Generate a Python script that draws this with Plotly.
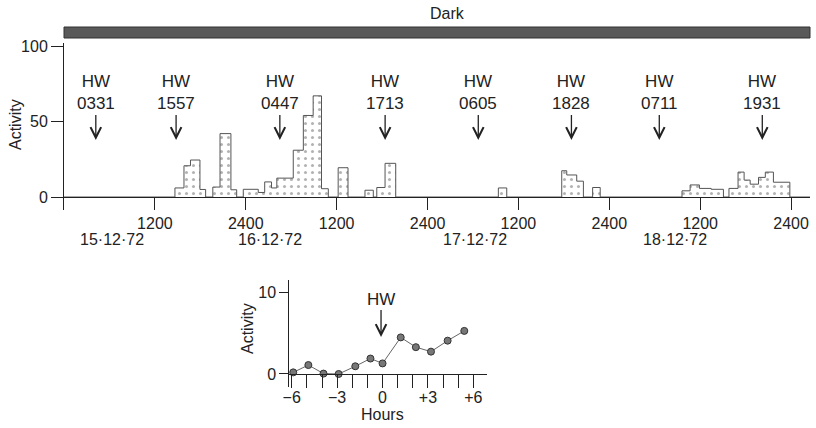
import plotly.graph_objects as go

# ---------------- data ----------------
# Top panel: activity step histogram (segment start time in hours from 0000 15.12.72, activity)
seg_start = [0, 14.65, 15.84, 16.7, 17.95, 18.7,
             19.65, 20.6, 22.04, 22.8,
             23.67, 25.65, 26.5, 27.4, 28.1, 30.27, 31.6, 32.9, 34.0, 34.9,
             36.2, 37.5,
             39.74, 40.84, 41.3, 42.39, 43.8,
             57.35, 58.46,
             65.72, 66.38, 67.7, 68.58, 69.8, 70.8,
             81.6, 82.67, 83.9, 85.45, 87.07, 87.8, 89.0, 89.8, 90.6, 91.7, 92.6, 93.67, 95.84,
             98.5]
seg_activity = [0, 6, 20.7, 24.5, 5, 0,
                6.6, 42, 4.8, 0,
                5.1, 3, 10, 6, 12.5, 31, 54, 67, 5.5, 0,
                19.4, 0,
                4.5, 0, 6.3, 22.3, 0,
                6, 0,
                17.4, 14.6, 10.5, 0, 6.3, 0,
                4.1, 8, 5.7, 5.1, 0, 5.7, 16.5, 11.2, 8.5, 13, 16.5, 9.8, 0,
                0]

x_tickvals = [12, 24, 36, 48, 60, 72, 84, 96]
x_ticktext = ["1200", "2400", "1200", "2400", "1200", "2400", "1200", "2400"]
date_labels = ["15·12·72", "16·12·72", "17·12·72", "18·12·72"]
date_pos = [6.3, 27.2, 54.3, 80.7]

hw_times = ["0331", "1557", "0447", "1713", "0605", "1828", "0711", "1931"]
hw_pos = [4.2, 14.8, 28.5, 42.4, 54.7, 67.0, 78.6, 92.2]

# Bottom panel: mean activity relative to high water
rel_hours = [-5.9, -4.9, -3.9, -2.9, -1.8, -0.8, 0.0, 1.2, 2.2, 3.2, 4.3, 5.4]
rel_activity = [0.2, 1.1, 0.05, 0.0, 0.95, 1.9, 1.3, 4.5, 3.3, 2.75, 4.1, 5.3]
rel_tickvals = list(range(-6, 7))
rel_ticktext = ["−6", "", "", "−3", "", "", "0", "", "", "+3", "", "", "+6"]

# ---------------- figure ----------------
W, H = 816, 428
FONT = "Liberation Sans"
INK = "#222222"

def py(px):
    return 1 - px / H

fig = go.Figure()

fig.add_trace(go.Scatter(
    x=seg_start, y=seg_activity, mode="lines", line_shape="hv",
    line=dict(color="#555555", width=1),
    fill="tozeroy", fillcolor="white",
    fillpattern=dict(shape=".", fgcolor="#666666", bgcolor="white", size=7, solidity=0.15),
    xaxis="x", yaxis="y", hoverinfo="skip", showlegend=False))

fig.add_trace(go.Scatter(
    x=rel_hours, y=rel_activity, mode="lines+markers",
    line=dict(color="#666666", width=1),
    marker=dict(size=7, color="#777777", line=dict(color="#333333", width=1)),
    xaxis="x2", yaxis="y2", hoverinfo="skip", showlegend=False, cliponaxis=False))

fig.update_layout(
    width=W, height=H,
    margin=dict(l=0, r=0, t=0, b=0, pad=0, autoexpand=False),
    paper_bgcolor="white", plot_bgcolor="white", showlegend=False,
    font=dict(family=FONT, size=16, color=INK),
    xaxis=dict(domain=[64 / W, 810 / W], range=[0, 98.5], anchor="free", position=py(197),
               tickvals=x_tickvals, ticktext=x_ticktext, ticks="outside", ticklen=12,
               tickcolor=INK, showline=True, linecolor=INK, linewidth=1,
               showgrid=False, zeroline=False, tickfont=dict(size=16), automargin=False),
    yaxis=dict(domain=[py(210), py(43)], range=[-8.6, 102], anchor="x",
               tickvals=[0, 50, 100], ticks="outside", ticklen=12, tickcolor=INK,
               showline=True, linecolor=INK, linewidth=1, showgrid=False, zeroline=False,
               tickfont=dict(size=16), automargin=False),
    xaxis2=dict(domain=[289.3 / W, 487 / W], range=[-6.16, 6.9], anchor="free", position=py(374),
                tickvals=rel_tickvals, ticktext=rel_ticktext, ticks="outside", ticklen=13,
                tickcolor=INK, showline=True, linecolor=INK, linewidth=1,
                showgrid=False, zeroline=False, tickfont=dict(size=16), automargin=False,
                ticklabelstandoff=-4),
    yaxis2=dict(domain=[py(387), py(280)], range=[-1.6, 11.56], anchor="x2",
                tickvals=[0, 10], ticks="outside", ticklen=9, tickcolor=INK,
                showline=True, linecolor=INK, linewidth=1, showgrid=False, zeroline=False,
                tickfont=dict(size=16), automargin=False),
)

# Dark bar
fig.add_shape(type="rect", xref="x domain", yref="paper", x0=0, x1=1,
              y0=py(38), y1=py(27), fillcolor="#595959", line=dict(color="#333333", width=1))

def txt(text, x, y, xref="paper", **kw):
    d = dict(text=text, x=x, y=y, xref=xref, yref="paper", showarrow=False,
             xanchor="center", yanchor="middle", font=dict(size=16))
    d.update(kw)
    return d

ann = []
ann.append(txt("Dark", 447 / W, py(14)))
ann.append(txt("Activity", 15 / W, py(125), textangle=-90))
ann.append(txt("Activity", 247 / W, py(328), textangle=-90))
ann.append(txt("Hours", 0, py(414), xref="x2"))
for lab, pos in zip(date_labels, date_pos):
    ann.append(txt(lab, pos, py(240), xref="x"))
for t, pos in zip(hw_times, hw_pos):
    ann.append(dict(text="HW<br>" + t, x=pos, y=py(140), xref="x", yref="paper",
                    showarrow=True, ax=0, ay=-47, arrowhead=5, arrowsize=1.6,
                    arrowwidth=1.3, arrowcolor=INK, font=dict(size=17)))
ann.append(dict(text="HW", x=-0.1, y=py(337), xref="x2", yref="paper",
                showarrow=True, ax=0, ay=-38, arrowhead=5, arrowsize=1.6,
                arrowwidth=1.3, arrowcolor=INK, font=dict(size=17)))
fig.update_layout(annotations=ann)

fig.write_html("out.html", config={"displayModeBar": False},
               post_script="document.body.style.margin='0';document.body.style.padding='0';")
